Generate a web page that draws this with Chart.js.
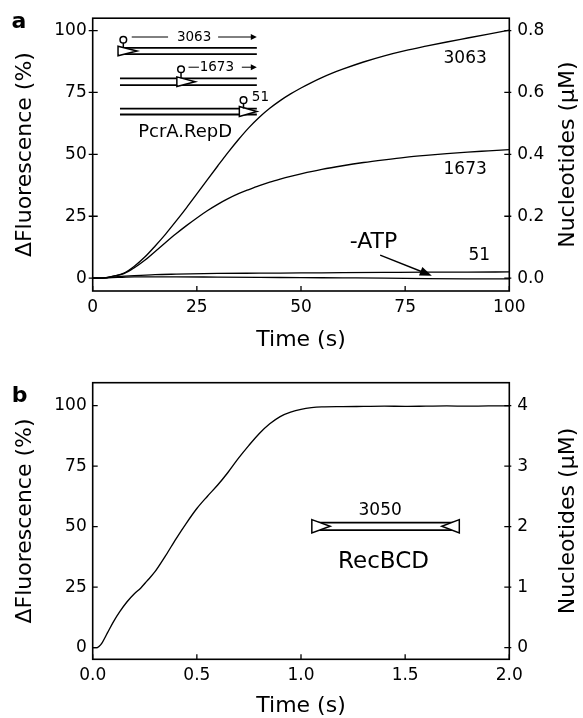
<!DOCTYPE html>
<html><head><meta charset="utf-8">
<script src="https://cdn.jsdelivr.net/npm/chart.js@4.4.0/dist/chart.umd.min.js"></script>
<style>
html,body{margin:0;padding:0;background:#fff;}
#wrap{position:relative;width:583px;height:718px;overflow:hidden;background:#fff;}
canvas{position:absolute;left:0;}
#ca{top:0;} #cb{top:359px;}
</style></head>
<body><div id="wrap">
<canvas id="ca" width="583" height="359"></canvas>
<canvas id="cb" width="583" height="359"></canvas>
</div>
<script>
// ---------- Panel a data (PcrA.RepD) ----------
const t3063 = [0, 2.5, 5, 7.5, 10, 12.5, 15, 17.5, 20, 22.5, 25, 27.5, 30, 32.5, 35, 37.5, 40, 42.5, 45, 47.5, 50, 52.5, 55, 57.5, 60, 65, 70, 75, 80, 85, 90, 95, 100];
const f3063 = [0, 0, 0.8, 2.0, 4.8, 8.5, 13.0, 17.8, 23.0, 28.4, 34.0, 39.7, 45.3, 50.8, 56.0, 60.8, 65.0, 68.6, 71.7, 74.4, 76.8, 79.0, 81.0, 82.8, 84.4, 87.3, 89.8, 91.9, 93.7, 95.4, 97.0, 98.6, 100.2];
const t1673 = [0, 2.5, 5, 7.5, 10, 12.5, 15, 17.5, 20, 22.5, 25, 27.5, 30, 32.5, 35, 37.5, 40, 42.5, 45, 47.5, 50, 55, 60, 65, 70, 75, 80, 85, 90, 95, 100];
const f1673 = [0, 0, 0.8, 1.8, 4.2, 7.2, 10.8, 14.4, 17.9, 21.2, 24.3, 27.2, 29.8, 32.1, 34.1, 35.8, 37.4, 38.8, 40.0, 41.1, 42.1, 43.9, 45.4, 46.7, 47.8, 48.8, 49.6, 50.3, 50.9, 51.4, 51.9];
const t51 = [0, 3, 6, 10, 15, 20, 30, 40, 50, 60, 70, 80, 90, 100];
const f51 = [0, 0.2, 0.6, 1.0, 1.4, 1.6, 1.9, 2.0, 2.1, 2.2, 2.3, 2.4, 2.4, 2.5];
const fNoATP = [0, 0.1, 0.3, 0.5, 0.5, 0.5, 0.4, 0.3, 0.2, 0.1, 0.0, -0.2, -0.3, -0.3];
const ticksAx = [0, 25, 50, 75, 100];
const ticksAy = [0, 25, 50, 75, 100];
const ticksAy2 = [0, 0.2, 0.4, 0.6, 0.8];

// ---------- Panel b data (RecBCD) ----------
const tB = [0, 0.02, 0.03, 0.045, 0.07, 0.1, 0.13, 0.165, 0.2, 0.23, 0.26, 0.3, 0.35, 0.4, 0.45, 0.5, 0.55, 0.6, 0.65, 0.7, 0.75, 0.8, 0.85, 0.9, 0.95, 1.0, 1.05, 1.1, 1.2, 1.3, 1.4, 1.5, 1.6, 1.7, 1.8, 1.9, 2.0];
const fB = [0, 0, 0.5, 2, 6, 10.8, 14.9, 19, 22.3, 24.6, 27.5, 31.5, 38, 45, 51.5, 57.5, 62.5, 67.2, 72.5, 78.3, 83.6, 88.5, 92.5, 95.5, 97.3, 98.5, 99.2, 99.5, 99.6, 99.7, 99.8, 99.7, 99.8, 99.9, 99.8, 99.9, 99.9];
const ticksBx = [0, 0.5, 1.0, 1.5, 2.0];
const ticksBy = [0, 25, 50, 75, 100];
const ticksBy2 = [0, 1, 2, 3, 4];

const FONT = '"DejaVu Sans", sans-serif';
function pts(xs, ys){ return xs.map((x,i)=>({x:x, y:ys[i]})); }

// annotation layers (data coordinates)
const decorA = [
  {k:'line', p:[[6.08,93.0],[39.4,93.0]]},
  {k:'line', p:[[6.08,90.5],[39.4,90.5]]},
  {k:'tri', p:[[6.08,93.7],[10.64,91.75],[6.08,89.8]]},
  {k:'pin', x:7.35, c:96.3, b:93.0},
  {k:'line', p:[[9.37,97.4],[18.09,97.4]], w:1},
  {k:'text', x:24.33, y:97.4, s:'3063', size:13.5},
  {k:'arrowS', p:[[30.1,97.4],[39.4,97.4]]},

  {k:'line', p:[[6.55,80.7],[39.4,80.7]]},
  {k:'line', p:[[6.55,78.0],[39.4,78.0]]},
  {k:'tri', p:[[20.2,81.3],[24.6,79.35],[20.2,77.4]]},
  {k:'pin', x:21.2, c:84.4, b:80.7},
  {k:'line', p:[[23.0,85.2],[25.5,85.2]], w:1},
  {k:'text', x:29.8, y:85.2, s:'1673', size:13.5},
  {k:'arrowS', p:[[35.8,85.2],[39.4,85.2]]},

  {k:'line', p:[[6.55,68.5],[39.4,68.5]]},
  {k:'line', p:[[6.55,66.1],[39.4,66.1]]},
  {k:'tri', p:[[35.2,69.3],[39.4,67.3],[35.2,65.3]]},
  {k:'pin', x:36.2, c:71.9, b:68.5},
  {k:'text', x:38.2, y:72.8, s:'51', size:13.5, align:'left'},
  {k:'text', x:22.2, y:58.9, s:'PcrA.RepD', size:18},

  {k:'text', x:89.4, y:88.8, s:'3063', size:17},
  {k:'text', x:89.4, y:43.8, s:'1673', size:17},
  {k:'text', x:92.8, y:9.0, s:'51', size:17},
  {k:'text', x:67.4, y:14.5, s:'-ATP', size:22},
  {k:'arrowF', p:[[69.0,9.3],[81.4,1.0]]}
];
const decorB = [
  {k:'line', p:[[1.052,51.7],[1.76,51.7]]},
  {k:'line', p:[[1.052,48.6],[1.76,48.6]]},
  {k:'tri', p:[[1.052,52.9],[1.14,50.15],[1.052,47.4]]},
  {k:'tri', p:[[1.76,52.9],[1.676,50.15],[1.76,47.4]]},
  {k:'text', x:1.38, y:56.5, s:'3050', size:17},
  {k:'text', x:1.396, y:35.5, s:'RecBCD', size:23}
];

const framePlugin = {
  id:'frame',
  afterDraw(chart, args, o){
    const ctx = chart.ctx, a = chart.chartArea;
    const sx = chart.scales.x, sy = chart.scales.y, sy2 = chart.scales.y2;
    const X = v => sx.getPixelForValue(v), Y = v => sy.getPixelForValue(v);
    ctx.save();
    ctx.strokeStyle = '#000'; ctx.fillStyle = '#000';
    ctx.lineWidth = 1.6;
    ctx.strokeRect(a.left, a.top, a.right - a.left, a.bottom - a.top);
    ctx.lineWidth = 1.3;
    ctx.beginPath();
    sx.ticks.forEach(t => { const p = sx.getPixelForValue(t.value); ctx.moveTo(p, a.bottom); ctx.lineTo(p, a.bottom - 5); });
    sy.ticks.forEach(t => { const p = sy.getPixelForValue(t.value); ctx.moveTo(a.left - o.yOut, p); ctx.lineTo(a.left + 5, p); });
    sy2.ticks.forEach(t => { const p = sy2.getPixelForValue(t.value); ctx.moveTo(a.right - 5, p); ctx.lineTo(a.right + 2, p); });
    ctx.stroke();
    (o.decor || []).forEach(d => {
      if (d.k === 'line') {
        ctx.lineWidth = d.w || 1.8;
        ctx.beginPath(); ctx.moveTo(X(d.p[0][0]), Y(d.p[0][1])); ctx.lineTo(X(d.p[1][0]), Y(d.p[1][1])); ctx.stroke();
      } else if (d.k === 'tri') {
        ctx.lineWidth = 1.5;
        ctx.beginPath();
        d.p.forEach((q,i) => { const px = X(q[0]), py = Y(q[1]); if (i) ctx.lineTo(px, py); else ctx.moveTo(px, py); });
        ctx.closePath(); ctx.fillStyle = '#fff'; ctx.fill(); ctx.stroke(); ctx.fillStyle = '#000';
      } else if (d.k === 'pin') {
        const px = X(d.x), cy = Y(d.c), by = Y(d.b), r = 3.3;
        ctx.lineWidth = 1.5;
        ctx.beginPath(); ctx.arc(px, cy, r, 0, Math.PI * 2); ctx.stroke();
        ctx.beginPath(); ctx.moveTo(px, cy + r); ctx.lineTo(px, by); ctx.stroke();
      } else if (d.k === 'text') {
        ctx.font = d.size + 'px ' + FONT;
        ctx.textAlign = d.align || 'center'; ctx.textBaseline = 'middle';
        ctx.fillText(d.s, X(d.x), Y(d.y));
      } else if (d.k === 'arrowS' || d.k === 'arrowF') {
        const x1 = X(d.p[0][0]), y1 = Y(d.p[0][1]), x2 = X(d.p[1][0]), y2 = Y(d.p[1][1]);
        const ang = Math.atan2(y2 - y1, x2 - x1);
        const L = d.k === 'arrowF' ? 12 : 6, W = d.k === 'arrowF' ? 4.5 : 3;
        ctx.lineWidth = d.k === 'arrowF' ? 1.4 : 1;
        ctx.beginPath(); ctx.moveTo(x1, y1); ctx.lineTo(x2 - Math.cos(ang) * L * 0.6, y2 - Math.sin(ang) * L * 0.6); ctx.stroke();
        const bx = x2 - Math.cos(ang) * L, by = y2 - Math.sin(ang) * L;
        ctx.beginPath();
        ctx.moveTo(x2, y2);
        ctx.lineTo(bx - Math.sin(ang) * W, by + Math.cos(ang) * W);
        ctx.lineTo(bx + Math.sin(ang) * W, by - Math.cos(ang) * W);
        ctx.closePath(); ctx.fill();
      }
    });
    ctx.font = '22px ' + FONT; ctx.textAlign = 'center'; ctx.textBaseline = 'middle';
    ctx.translate(o.rtX, (a.top + a.bottom) / 2); ctx.rotate(-Math.PI / 2);
    ctx.fillText('Nucleotides (\u03BCM)', 0, 0);
    ctx.setTransform(1, 0, 0, 1, 0, 0);
    ctx.font = 'bold 22px ' + FONT; ctx.textAlign = 'center'; ctx.textBaseline = 'alphabetic';
    ctx.fillText(o.letter, o.letterX, o.letterY);
    ctx.restore();
  }
};

function makeChart(id, c){
  return new Chart(document.getElementById(id), {
    type: 'line',
    data: { datasets: c.series.map(s => ({
      data: s, borderColor: '#000', borderWidth: 1.35, pointRadius: 0, fill: false,
      cubicInterpolationMode: 'monotone', xAxisID: 'x', yAxisID: 'y'
    })) },
    options: {
      responsive: false, animation: false, events: [],
      layout: { padding: { top: c.padTop, left: 0, right: 0, bottom: 0 } },
      plugins: { legend: { display: false }, tooltip: { enabled: false },
        frame: { decor: c.decor, letter: c.letter, letterX: c.letterX, letterY: c.letterY, rtX: 568, yOut: c.yOut } },
      scales: {
        x: { type: 'linear', position: 'bottom', min: c.xmin, max: c.xmax,
          afterBuildTicks: s => { s.ticks = c.xticks.map(v => ({ value: v })); },
          afterFit: s => { s.height = c.xh; },
          grid: { display: false, drawTicks: false }, border: { display: false },
          ticks: { color: '#000', font: { family: FONT, size: 17 }, padding: 6, maxRotation: 0, autoSkip: false, callback: v => c.xfmt(v) },
          title: { display: true, text: 'Time (s)', color: '#000', font: { family: FONT, size: 22, lineHeight: 1 }, padding: { top: 0, bottom: c.xtPad } } },
        y: { type: 'linear', position: 'left', min: c.ymin, max: c.ymax,
          afterBuildTicks: s => { s.ticks = c.yticks.map(v => ({ value: v })); },
          afterFit: s => { s.width = 92.7; },
          grid: { display: false, drawTicks: false }, border: { display: false },
          ticks: { color: '#000', font: { family: FONT, size: 17 }, padding: 6, callback: v => String(v) },
          title: { display: true, text: '\u0394Fluorescence (%)', color: '#000', font: { family: FONT, size: 22, lineHeight: 1 }, padding: { top: 14, bottom: 0 } } },
        y2: { type: 'linear', position: 'right', min: c.ymin * c.k, max: c.ymax * c.k,
          afterBuildTicks: s => { s.ticks = c.y2ticks.map(v => ({ value: v })); },
          afterFit: s => { s.width = 583 - 509.3; },
          grid: { display: false, drawTicks: false }, border: { display: false },
          ticks: { color: '#000', font: { family: FONT, size: 17 }, padding: 8, callback: v => c.y2fmt(v) } }
      }
    },
    plugins: [framePlugin]
  });
}

makeChart('ca', {
  series: [pts(t3063, f3063), pts(t1673, f1673), pts(t51, f51), pts(t51, fNoATP)],
  padTop: 14, xh: 359 - 291, xtPad: 8,
  xmin: 0, xmax: 100, xticks: ticksAx, xfmt: v => String(v),
  ymin: -5.2, ymax: 105, yticks: ticksAy,
  k: 0.008, y2ticks: ticksAy2, y2fmt: v => v.toFixed(1),
  decor: decorA, letter: 'a', letterX: 19, letterY: 27.5, yOut: 4
});
makeChart('cb', {
  series: [pts(tB, fB)],
  padTop: 23.7, xh: 718 - 659.3, xtPad: 0.5,
  xmin: 0, xmax: 2, xticks: ticksBx, xfmt: v => v.toFixed(1),
  ymin: -4.8, ymax: 109.5, yticks: ticksBy,
  k: 0.04, y2ticks: ticksBy2, y2fmt: v => String(Math.round(v)),
  decor: decorB, letter: 'b', letterX: 19.5, letterY: 42.7, yOut: 0
});
</script>
</body></html>
